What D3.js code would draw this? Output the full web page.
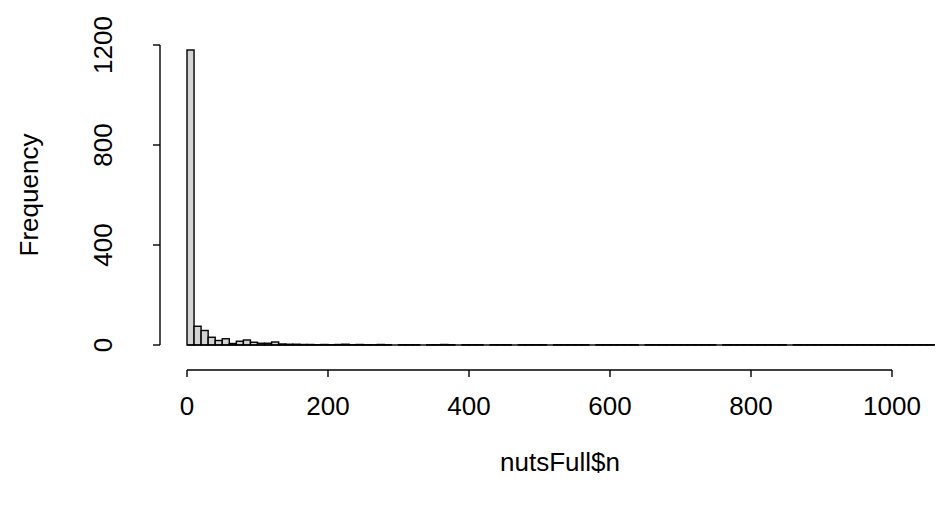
<!DOCTYPE html>
<html><head><meta charset="utf-8">
<script src="https://cdn.jsdelivr.net/npm/d3@7"></script>
<style>body{margin:0;background:#fff}svg{display:block}text{font-family:"Liberation Sans",Arial,sans-serif;fill:#000}</style>
</head><body><svg id="c" width="936" height="508"></svg>
<script>
const binWidth = 10;
const counts = [1180, 75, 58, 31, 18, 25, 6, 15, 20, 11, 7, 7, 12, 4, 3, 3, 2, 2, 1, 2,
  1, 2, 3, 1, 2, 1, 1, 2, 1, 0, 1, 1, 1, 0, 1, 1, 2, 1, 0, 1,
  1, 1, 0, 1, 1, 1, 0, 1, 1, 1, 1, 0, 1, 1, 1, 1, 1, 0, 1, 1,
  1, 1, 1, 1, 0, 1, 1, 1, 1, 1, 1, 1, 1, 1, 1, 0, 1, 1, 1, 1,
  1, 1, 1, 1, 1, 0, 1, 1, 1, 1, 1, 1, 1, 1, 1, 1, 1, 1, 1, 1,
  1, 1, 1, 1, 1, 1];
const xTicks = [0, 200, 400, 600, 800, 1000];
const yTicks = [0, 400, 800, 1200];
const xLabel = "nutsFull$n";
const yLabel = "Frequency";

const svg = d3.select("#c");
const x = d3.scaleLinear().domain([0, 1000]).range([187, 892]);
const y = d3.scaleLinear().domain([0, 1200]).range([345, 45]);
const fs = 26;
const bw = x(binWidth) - x(0);

const bars = svg.append("g");
bars.selectAll("rect").data(counts).join("rect")
  .attr("x", (d, i) => x(i * binWidth))
  .attr("y", d => y(d))
  .attr("width", bw)
  .attr("height", d => y(0) - y(d))
  .attr("fill", "#d3d3d3").attr("stroke", "#000").attr("stroke-width", 1.4);
bars.selectAll("line").data(counts).join("line")
  .attr("x1", (d, i) => x(i * binWidth)).attr("x2", (d, i) => x((i + 1) * binWidth))
  .attr("y1", y(0)).attr("y2", y(0)).attr("stroke", "#000").attr("stroke-width", 1.4);

// x axis
const xa = svg.append("g").attr("transform", "translate(0,370)");
xa.append("line").attr("x1", x(0)).attr("x2", x(1000)).attr("y1", 0).attr("y2", 0).attr("stroke", "#000").attr("stroke-width", 1.4);
xa.selectAll(".t").data(xTicks).join("line").attr("x1", d => x(d)).attr("x2", d => x(d)).attr("y1", 0).attr("y2", 7).attr("stroke", "#000").attr("stroke-width", 1.4);
xa.selectAll("text").data(xTicks).join("text").attr("x", d => x(d)).attr("y", 45).attr("text-anchor", "middle").attr("font-size", fs).text(d => d);

// y axis
const ya = svg.append("g").attr("transform", "translate(160,0)");
ya.append("line").attr("x1", 0).attr("x2", 0).attr("y1", y(0)).attr("y2", y(1200)).attr("stroke", "#000").attr("stroke-width", 1.4);
ya.selectAll(".t").data(yTicks).join("line").attr("x1", -7).attr("x2", 0).attr("y1", d => y(d)).attr("y2", d => y(d)).attr("stroke", "#000").attr("stroke-width", 1.4);
ya.selectAll("text").data(yTicks).join("text")
  .attr("transform", d => `translate(-57,${y(d)}) rotate(-90)`)
  .attr("text-anchor", "middle").attr("dy", "0.35em").attr("font-size", fs).text(d => d);

svg.append("text").attr("x", 560).attr("y", 471).attr("text-anchor", "middle").attr("font-size", fs).text(xLabel);
svg.append("text").attr("transform", "translate(38,195) rotate(-90)").attr("text-anchor", "middle").attr("font-size", fs).text(yLabel);
</script></body></html>
